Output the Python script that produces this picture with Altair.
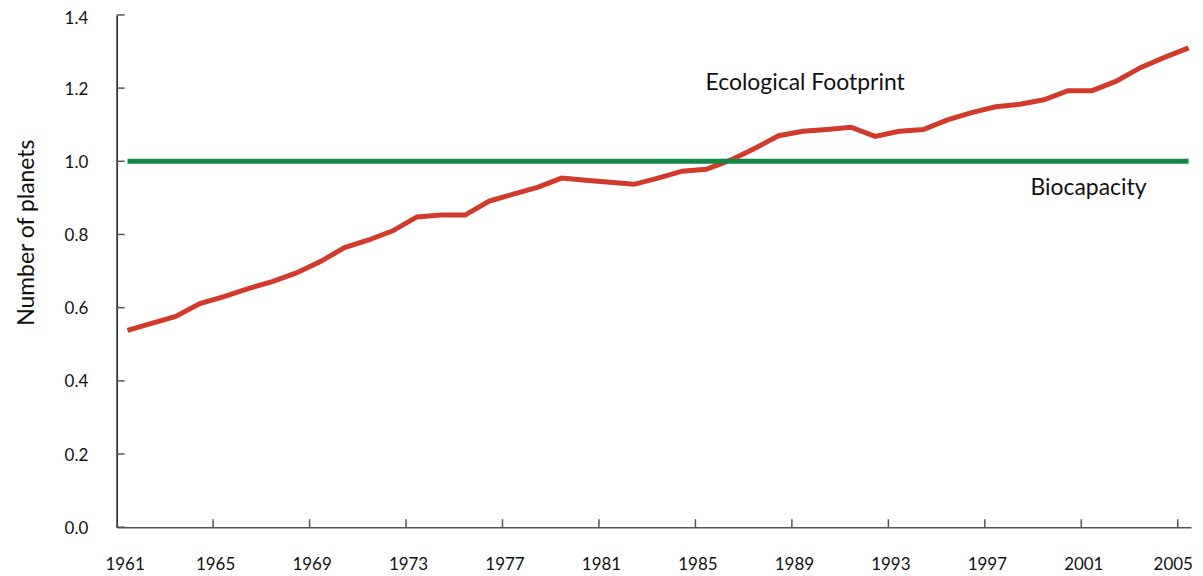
import altair as alt
import pandas as pd

years = list(range(1961, 2006))
footprint = [0.538, 0.557, 0.576, 0.611, 0.630, 0.652, 0.671, 0.695, 0.726, 0.764,
             0.785, 0.810, 0.848, 0.853, 0.853, 0.891, 0.910, 0.929, 0.954, 0.948,
             0.943, 0.937, 0.954, 0.973, 0.978, 1.003, 1.035, 1.070, 1.082, 1.087,
             1.093, 1.068, 1.082, 1.087, 1.113, 1.133, 1.149, 1.156, 1.168, 1.193,
             1.193, 1.219, 1.256, 1.284, 1.310]
biocapacity = [1.0] * len(years)

x_ticks = [1961, 1965, 1969, 1973, 1977, 1981, 1985, 1989, 1993, 1997, 2001, 2005]
y_ticks = [0.0, 0.2, 0.4, 0.6, 0.8, 1.0, 1.2, 1.4]

label_text = ["Ecological Footprint", "Biocapacity"]
label_year = [1989.55, 2001.3]
label_value = [1.215, 0.927]

FONT = "Lato"
W, H = 1078, 514

df = pd.DataFrame({"year": years, "Ecological Footprint": footprint, "Biocapacity": biocapacity})
long = df.melt("year", var_name="series", value_name="value")

xscale = alt.Scale(domain=[1961, 2005.55], nice=False, zero=False)
yscale = alt.Scale(domain=[0, 1.4], nice=False)

xaxis = alt.Axis(values=x_ticks, format="d", ticks=False, grid=False, domainColor="#555555",
                 domainWidth=1.5, labelPadding=29,
                 labelOffset={"condition": [{"test": "datum.value == 1961", "value": 8},
                                            {"test": "datum.value == 2005", "value": -5}],
                              "value": 2},
                 labelFontSize=17, labelFont=FONT, labelColor="#111111", title=None,
                 labelFlush=False, labelOverlap=False)
yaxis = alt.Axis(values=y_ticks, format=".1f", ticks=False, grid=False, domainColor="#111111",
                 domainWidth=1.5, labelPadding=29, labelFontSize=17, labelFont=FONT,
                 labelOffset={"condition": {"test": "datum.value >= 1.39", "value": 4}, "value": 1},
                 labelColor="#111111", title="Number of planets", titleFont=FONT,
                 titleFontSize=23, titleFontWeight="normal", titleColor="#111111",
                 titleAngle=270, titleX=-90, titleY=218, titleAlign="center",
                 titleBaseline="middle", labelFlush=False)

lines = alt.Chart(long).transform_calculate(
    xpos="datum.year + 0.45"
).mark_line(strokeWidth=5).encode(
    x=alt.X("xpos:Q", scale=xscale, axis=xaxis),
    y=alt.Y("value:Q", scale=yscale, axis=yaxis),
    color=alt.Color("series:N", scale=alt.Scale(domain=["Biocapacity", "Ecological Footprint"],
                                                range=["#138845", "#d13b2b"]), legend=None),
    order=alt.Order("series:N", sort="ascending"),
)

xt = alt.Chart(pd.DataFrame({"t": x_ticks[1:]})).mark_rule(color="#555555", strokeWidth=1.5).encode(
    x=alt.X("t:Q", scale=xscale), y=alt.value(H), y2=alt.value(H - 8))
yt = alt.Chart(pd.DataFrame({"t": y_ticks})).mark_rule(color="#555555", strokeWidth=1.5).encode(
    y=alt.Y("t:Q", scale=yscale), x=alt.value(0), x2=alt.value(8))

labels = alt.Chart(pd.DataFrame({"text": label_text, "year": label_year, "value": label_value})).mark_text(
    font=FONT, fontSize=23, color="#111111", align="center", baseline="middle").encode(
    x=alt.X("year:Q", scale=xscale), y=alt.Y("value:Q", scale=yscale), text="text:N")

chart = alt.layer(lines, xt, yt, labels).properties(
    width=W, height=H,
    autosize=alt.AutoSizeParams(type="none"),
    padding={"left": 109, "top": 6, "right": 4, "bottom": 46},
).configure_view(stroke=None)

chart.save("out.html", embed_options={"renderer": "svg", "actions": False})
